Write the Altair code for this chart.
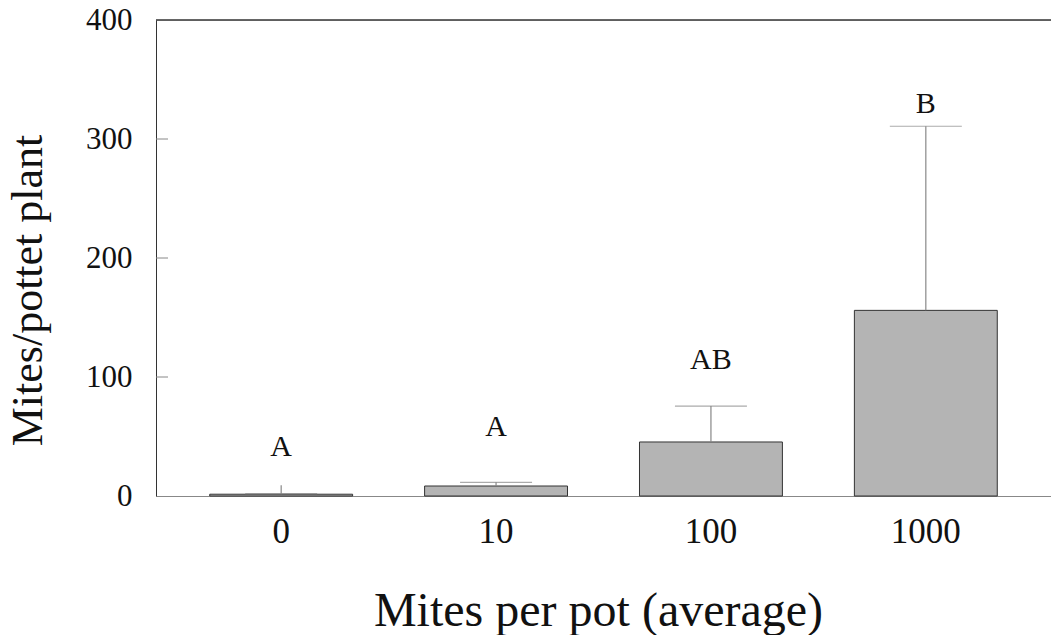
import altair as alt
import pandas as pd

categories = ["0", "10", "100", "1000"]
means = [1.5, 8.4, 45.4, 156.0]
err_top = [9.0, 11.5, 75.6, 310.7]
cap_pos = [2.0, 11.5, 75.6, 310.7]
letters = ["A", "A", "AB", "B"]
letter_y = [41, 58, 114, 329]
y_ticks = [100, 200, 300]
y_max = [400]

df = pd.DataFrame({
    "cat": categories, "mean": means, "err": err_top,
    "cap": cap_pos, "letter": letters, "ly": letter_y,
})
ticks_df = pd.DataFrame({"t": y_ticks})
top_df = pd.DataFrame({"t": y_max})

FONT = "Liberation Serif"

xenc = alt.X("cat:N", sort=categories,
             scale=alt.Scale(paddingInner=0.335, paddingOuter=0.25),
             axis=alt.Axis(title="Mites per pot (average)", labelAngle=0,
                           ticks=False, tickSize=0, labelPadding=18,
                           labelFontSize=35, labelFont=FONT, labelColor="#111",
                           domainColor="#888", domainWidth=1,
                           titleFont=FONT, titleFontSize=48, titleFontWeight="normal",
                           titleColor="#111", titleBaseline="alphabetic",
                           titleY=129, titleX=442))
yscale = alt.Scale(domain=[0, 400], nice=False, zero=True)

bars = alt.Chart(df).mark_bar(color="#b4b4b4", stroke="#333", strokeWidth=1).encode(
    x=xenc,
    y=alt.Y("mean:Q", scale=yscale,
            axis=alt.Axis(title="Mites/pottet plant", values=[0, 100, 200, 300, 400],
                          ticks=False, tickSize=0, labelPadding=24, grid=False,
                          labelFontSize=31, labelFont=FONT, labelColor="#111",
                          domainColor="#333",
                          titleFont=FONT, titleFontSize=44, titleFontWeight="normal",
                          titleColor="#111", titleAngle=270, titleX=-128, titleY=270,
                          titleAlign="center", titleBaseline="middle")),
)

err = alt.Chart(df).mark_rule(color="#888", strokeWidth=1.2).encode(
    x=alt.X("cat:N", sort=categories), y=alt.Y("mean:Q", scale=yscale), y2="err:Q")

caps = alt.Chart(df).mark_tick(color="#888", thickness=1.2, size=72).encode(
    x=alt.X("cat:N", sort=categories), y=alt.Y("cap:Q", scale=yscale))

text = alt.Chart(df).mark_text(font=FONT, fontSize=30, color="#111", baseline="middle").encode(
    x=alt.X("cat:N", sort=categories), y=alt.Y("ly:Q", scale=yscale), text="letter:N")

yt = alt.Chart(ticks_df).mark_rule(color="#888", strokeWidth=1).encode(
    y=alt.Y("t:Q", scale=yscale), x=alt.value(0), x2=alt.value(12))

top = alt.Chart(top_df).mark_rule(color="#333", strokeWidth=1.5).encode(
    y=alt.Y("t:Q", scale=yscale), x=alt.value(0), x2=alt.value(895))

chart = alt.layer(bars, err, caps, text, yt, top).properties(
    width=895, height=476,
    autosize=alt.AutoSizeParams(type="none"),
    padding={"left": 156, "top": 20, "right": 0, "bottom": 139},
).configure_view(stroke=None).configure(background="white")

chart.save("out.html", embed_options={"renderer": "svg", "actions": False})
